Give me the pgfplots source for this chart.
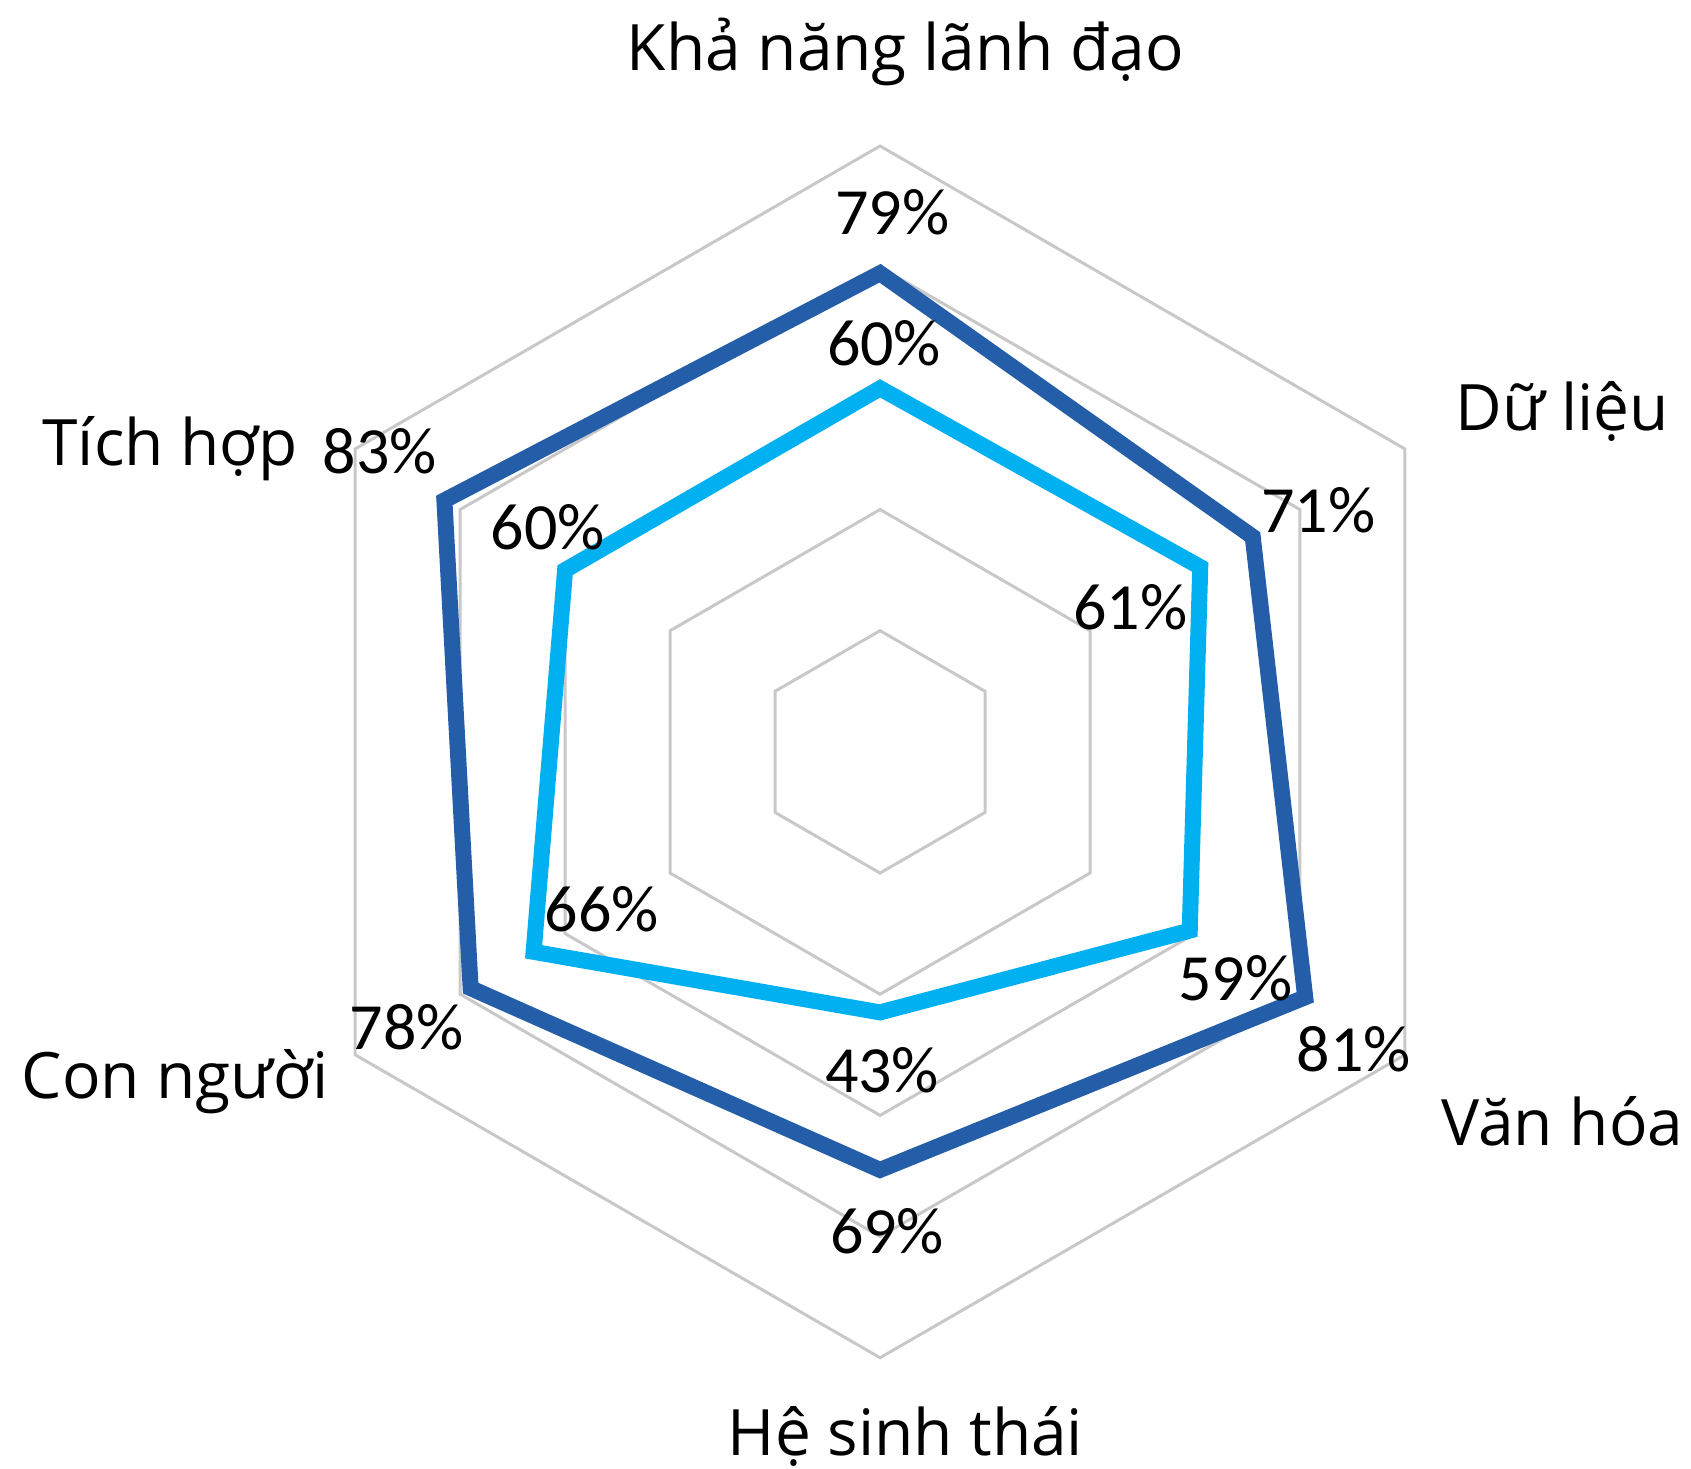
\documentclass[border=0pt]{standalone}
\usepackage{pgfplots}
\pgfplotsset{compat=1.18}
\usepackage{fontspec}
\setmainfont{Open Sans}
\newfontfamily\pctfont{Carlito}
\definecolor{darkblue}{RGB}{37,94,168}
\definecolor{lightblue}{RGB}{0,176,240}
\definecolor{gridgray}{RGB}{200,200,200}
\tikzset{
  cat/.style={font=\fontsize{16}{19}\selectfont, anchor=center, inner sep=0pt},
  pct/.style={font=\pctfont\fontsize{16.5}{19}\selectfont, anchor=center, inner sep=0pt},
}
\begin{document}
\begin{tikzpicture}
\begin{axis}[
  scale only axis, width=422.75pt, height=367pt,
  xmin=-145.2, xmax=133.8, ymin=-118.2, ymax=124.1,
  hide axis, clip=false,
  data cs=polar,
  every axis plot/.append style={line join=miter, mark=none},
]
% grid hexagons
\addplot[gridgray, line width=0.75pt] coordinates {(90,100) (30,100) (-30,100) (-90,100) (-150,100) (150,100)} -- cycle;
\addplot[gridgray, line width=0.75pt] coordinates {(90,80) (30,80) (-30,80) (-90,80) (-150,80) (150,80)} -- cycle;
\addplot[gridgray, line width=0.75pt] coordinates {(90,60) (30,60) (-30,60) (-90,60) (-150,60) (150,60)} -- cycle;
\addplot[gridgray, line width=0.75pt] coordinates {(90,40) (30,40) (-30,40) (-90,40) (-150,40) (150,40)} -- cycle;
\addplot[gridgray, line width=0.75pt] coordinates {(90,20) (30,20) (-30,20) (-90,20) (-150,20) (150,20)} -- cycle;
% series
\addplot[darkblue, line width=4pt] coordinates {(90,79) (30,71) (-30,81) (-90,69) (-150,78) (150,83)} -- cycle;
\addplot[lightblue, line width=4pt] coordinates {(90,60) (30,61) (-30,59) (-90,43) (-150,66) (150,60)} -- cycle;
% category labels
\node[cat] at (axis cs:4.2,115.5) {Khả năng lãnh đạo};
\node[cat] at (axis cs:112.6,56.1) {Dữ liệu};
\node[cat] at (axis cs:112.6,-61.0) {Văn hóa};
\node[cat] at (axis cs:4.2,-113.0) {Hệ sinh thái};
\node[cat] at (axis cs:-116.3,-54.5) {Con người};
\node[cat] at (axis cs:-117.1,50.0) {Tích hợp};
% value labels
\node[pct] at (axis cs:2.0,89.1) {79\%};
\node[pct] at (axis cs:0.66,67.5) {60\%};
\node[pct] at (axis cs:72.3,39.9) {71\%};
\node[pct] at (axis cs:41.3,23.9) {61\%};
\node[pct] at (axis cs:58.6,-37.3) {59\%};
\node[pct] at (axis cs:78.2,-49.0) {81\%};
\node[pct] at (axis cs:0.33,-52.6) {43\%};
\node[pct] at (axis cs:1.16,-79.2) {69\%};
\node[pct] at (axis cs:-45.9,-25.9) {66\%};
\node[pct] at (axis cs:-78.1,-45.5) {78\%};
\node[pct] at (axis cs:-54.8,37.0) {60\%};
\node[pct] at (axis cs:-82.5,49.7) {83\%};
\coordinate (bbl) at (rel axis cs:0,0);
\coordinate (btr) at (rel axis cs:1,1);
\end{axis}
\pgfresetboundingbox
\path (bbl) rectangle (btr);
\end{tikzpicture}
\end{document}
